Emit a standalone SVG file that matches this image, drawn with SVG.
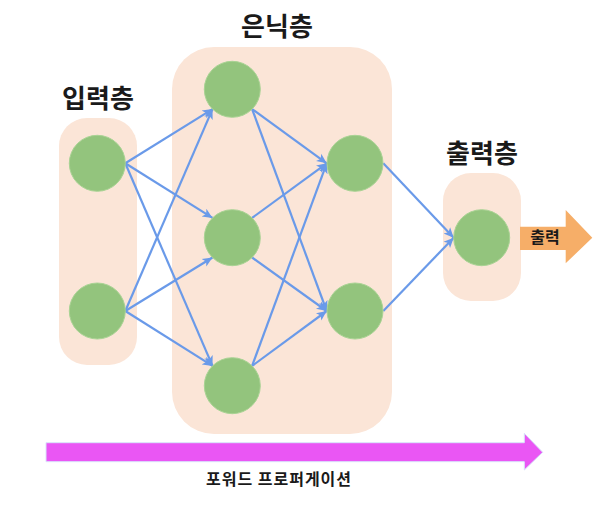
<svg xmlns="http://www.w3.org/2000/svg" width="602" height="506" viewBox="0 0 602 506">
  <style>
    .layer { fill: #fbe5d7; }
    .node { fill: #93c47d; stroke: #a9d394; stroke-width: 1; }
    .edge { stroke: #6a9ae9; stroke-width: 2.2; fill: none; marker-end: url(#ah); }
    .title { font-family: "Noto Sans CJK KR", "Noto Sans", sans-serif; font-weight: bold; font-size: 26px; fill: #1a1a1a; text-anchor: middle; }
    .lbl { font-family: "Noto Sans CJK KR", "Noto Sans", sans-serif; font-weight: bold; font-size: 16px; fill: #1a1a1a; text-anchor: middle; }
  </style>
  <defs>
    <marker id="ah" markerUnits="userSpaceOnUse" markerWidth="11" markerHeight="11" viewBox="0 0 11 11" refX="10" refY="5.5" orient="auto">
      <path d="M0,1 L10,5.5 L0,10 L2.5,5.5 Z" fill="#6a9ae9"/>
    </marker>
  </defs>
  <rect width="602" height="506" fill="#ffffff"/>

  <g id="input-layer">
    <rect class="layer" x="59" y="118" width="78" height="247" rx="28"/>
    <text class="title" x="98" y="108">입력층</text>
  </g>
  <g id="hidden-layer">
    <rect class="layer" x="172" y="47" width="220" height="387" rx="42"/>
    <text class="title" x="277" y="35.5">은닉층</text>
  </g>
  <g id="output-layer">
    <rect class="layer" x="443" y="173" width="78" height="128" rx="28"/>
    <text class="title" x="482" y="163">출력층</text>
  </g>

  <g id="connectors">
    <path class="edge" d="M125.3,163.3 L212.5,109.1"/>
    <path class="edge" d="M125.3,163.3 L212.5,217.9"/>
    <path class="edge" d="M125.3,163.3 L212.5,365.9"/>
    <path class="edge" d="M125.3,311 L212.5,109.1"/>
    <path class="edge" d="M125.3,311 L212.5,257.5"/>
    <path class="edge" d="M125.3,311 L212.5,365.9"/>
    <path class="edge" d="M252.1,109.1 L326.7,163.3"/>
    <path class="edge" d="M252.1,109.1 L326.7,311"/>
    <path class="edge" d="M252.1,217.9 L326.7,163.3"/>
    <path class="edge" d="M252.1,257.5 L326.7,311"/>
    <path class="edge" d="M252.1,365.9 L326.7,163.3"/>
    <path class="edge" d="M252.1,365.9 L326.7,311"/>
    <path class="edge" d="M383.3,163.3 L453.7,237.7"/>
    <path class="edge" d="M383.3,311 L453.7,237.7"/>
  </g>

  <g id="in1"><circle class="node" cx="97.3" cy="163.3" r="28"/></g>
  <g id="in2"><circle class="node" cx="97.3" cy="311" r="28"/></g>
  <g id="h1"><circle class="node" cx="232.3" cy="89.3" r="28"/></g>
  <g id="h2"><circle class="node" cx="232.3" cy="237.7" r="28"/></g>
  <g id="h3"><circle class="node" cx="232.3" cy="385.7" r="28"/></g>
  <g id="s1"><circle class="node" cx="355" cy="163.3" r="28"/></g>
  <g id="s2"><circle class="node" cx="355" cy="311" r="28"/></g>
  <g id="out"><circle class="node" cx="481.7" cy="237.7" r="28"/></g>

  <g id="output-arrow">
    <path d="M520,226.7 L565.7,226.7 L565.7,210 L592.3,237.7 L565.7,263.3 L565.7,250 L520,250 Z" fill="#f6ae68"/>
    <text class="lbl" x="545" y="242.5">출력</text>
  </g>

  <g id="forward-arrow">
    <path d="M46,442.7 L524.3,442.7 L524.3,433.3 L542.7,452.3 L524.3,470 L524.3,461.7 L46,461.7 Z" fill="#ea56f4" stroke="#d9e6fa" stroke-width="1"/>
    <text class="lbl" x="279" y="485" font-size="17" letter-spacing="1">포워드 프로퍼게이션</text>
  </g>
</svg>
